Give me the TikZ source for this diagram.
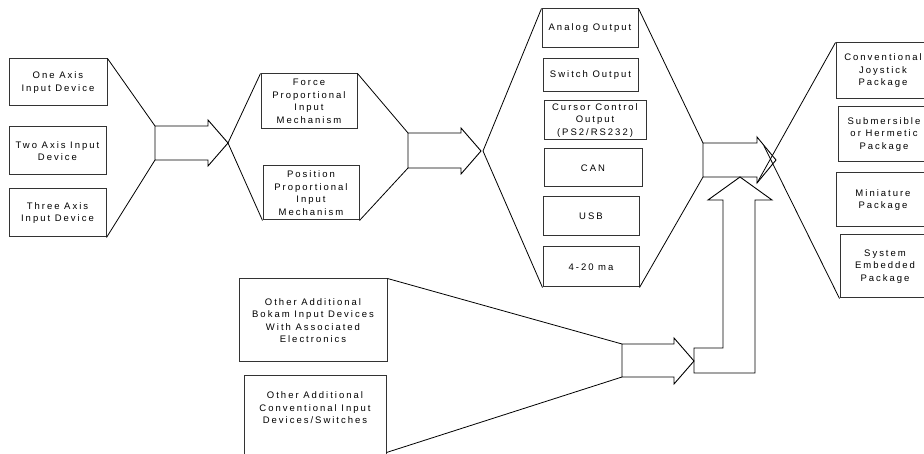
\documentclass[tikz,border=0pt]{standalone}
\usepackage{fontspec}
\setmainfont{Liberation Sans}[LetterSpace=21]
\begin{document}
\begin{tikzpicture}[x=1pt,y=-1pt,
  bx/.style={draw=black!80,line width=1pt,inner sep=0pt,align=center,font=\fontsize{9.5}{12.5}\selectfont},
  ln/.style={draw=black,line width=0.8pt},
  arr/.style={draw=black,line width=0.9pt,line join=miter}]
\useasboundingbox (0,0) rectangle (924,454);
\clip (0,0) rectangle (924,454);
% input devices
\node[bx,minimum width=98pt,minimum height=47pt] (one) at (58,82.5) {One Axis\\Input Device};
\node[bx,minimum width=97pt,minimum height=48pt] (two) at (57.5,151) {Two Axis Input\\Device};
\node[bx,minimum width=97pt,minimum height=48pt] (three) at (57.5,213) {Three Axis\\Input Device};
% mechanisms
\node[bx,minimum width=96pt,minimum height=55pt] (force) at (309,101.5) {Force\\Proportional\\Input\\Mechanism};
\node[bx,minimum width=96pt,minimum height=54pt] (pos) at (311,193) {Position\\Proportional\\Input\\Mechanism};
% outputs
\node[bx,minimum width=96pt,minimum height=39pt] (analog) at (590,28.5) {Analog Output};
\node[bx,minimum width=95pt,minimum height=33pt] (switch) at (590.5,75.5) {Switch Output};
\node[bx,minimum width=102pt,minimum height=39pt] (cursor) at (595,120.5) {Cursor Control\\Output\\(PS2/RS232)};
\node[bx,minimum width=98pt,minimum height=38pt] (can) at (593,168) {CAN};
\node[bx,minimum width=96pt,minimum height=39pt] (usb) at (591,216.5) {USB};
\node[bx,minimum width=96pt,minimum height=40pt] (ma) at (591,267) {4-20 ma};
% packages
\node[bx,minimum width=94pt,minimum height=56pt] (conv) at (883,71) {Conventional\\Joystick\\Package};
\node[bx,minimum width=92pt,minimum height=55pt] (subm) at (884,134.5) {Submersible\\or Hermetic\\Package};
\node[bx,minimum width=94pt,minimum height=54pt] (mini) at (883,200) {Miniature\\Package};
\node[bx,minimum width=90pt,minimum height=63pt] (sys) at (885,266.5) {System\\Embedded\\Package};
% other inputs
\node[bx,minimum width=148pt,minimum height=83pt] (bokam) at (313,320.5) {Other Additional\\Bokam Input Devices\\With Associated\\Electronics};
\node[bx,minimum width=142pt,minimum height=84pt] (convin) at (315,418) {Other Additional\\Conventional Input\\Devices/Switches\\[8pt]};
% arrow 1
\coordinate (a1tl) at (155,126);
\coordinate (a1bl) at (155,160);
\coordinate (a1t) at (228,143);
\draw[arr] (a1tl) -- (208,126) -- (208,120) -- (a1t) -- (208,166) -- (208,160) -- (a1bl) -- cycle;
% arrow 2
\coordinate (a2tl) at (408,133);
\coordinate (a2bl) at (408,168);
\coordinate (a2t) at (481,151);
\coordinate (v2) at (483,151);
\draw[arr] (a2tl) -- (461,133) -- (461,128) -- (a2t) -- (461,174) -- (461,168) -- (a2bl) -- cycle;
% arrow 3
\coordinate (a3tl) at (703,143);
\coordinate (a3bl) at (703,177);
\coordinate (a3t) at (776,160);
\coordinate (a3hb) at (757,183);
\coordinate (a3x) at (764,146);
\draw[arr] (a3tl) -- (757,143) -- (757,137) -- (a3t) -- (a3hb) -- (757,177) -- (a3bl) -- cycle;
% arrow 4
\coordinate (a4tl) at (622,344);
\coordinate (a4bl) at (622,377);
\coordinate (a4t) at (694,361);
\draw[arr] (a4tl) -- (674,344) -- (674,338) -- (a4t) -- (674,384) -- (674,377) -- (a4bl) -- cycle;
% bent up arrow
\coordinate (a5t) at (740,177);
\draw[arr] (a5t) -- (772,200) -- (755,200) -- (755,373) -- (694,373) -- (694,348) -- (723,348) -- (723,200) -- (708,200) -- cycle;
% connectors
\draw[ln] (one.north east) -- (a1tl);
\draw[ln] (three.south east) -- (a1bl);
\draw[ln] (a1t) -- (force.north west);
\draw[ln] (a1t) -- (pos.south west);
\draw[ln] (force.north east) -- (a2tl);
\draw[ln] (pos.south east) -- (a2bl);
\draw[ln] (v2) -- (analog.north west);
\draw[ln] (v2) -- (ma.south west);
\draw[ln] (analog.north east) -- (a3tl);
\draw[ln] (ma.south east) -- (a3bl);
\draw[ln] (a3hb) -- (conv.north west);
\draw[ln] (a3x) -- (sys.south west);
\draw[ln] (bokam.north east) -- (a4tl);
\draw[ln] ([yshift=8pt]convin.south east) -- (a4bl);
\end{tikzpicture}
\end{document}
